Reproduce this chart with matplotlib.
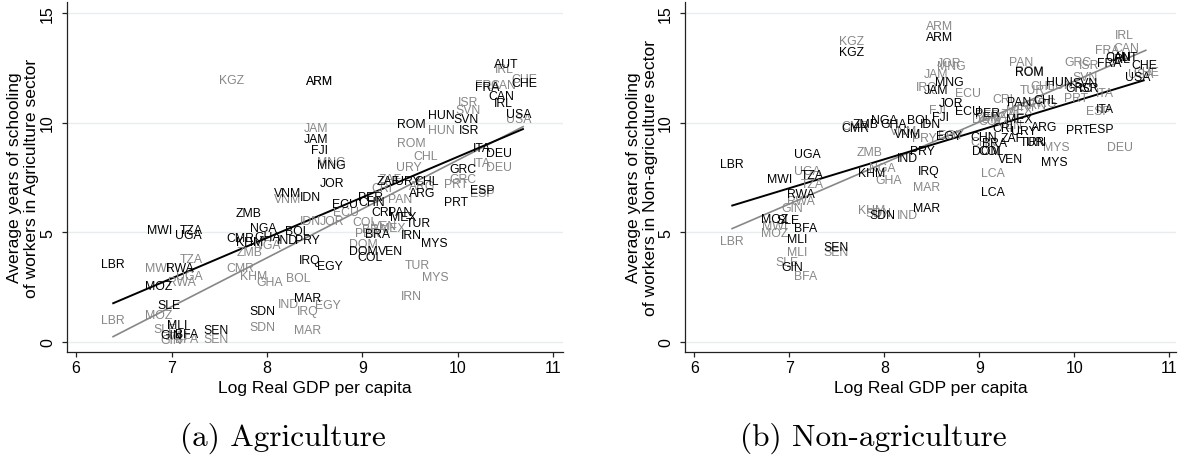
import matplotlib
matplotlib.use('Agg')
import matplotlib.pyplot as plt
import numpy as np

plt.rcParams['font.family'] = ['Liberation Sans', 'DejaVu Sans']

# ---------------- data ----------------
# Panel (a) Agriculture – black series
ag_black_codes = ['LBR','MWI','TZA','UGA','RWA','MOZ','SLE','MLI','GIN','BFA','SEN','ZMB','NGA','CMR',
                  'GHA','KHM','IND','PRY','BOL','SDN','IRQ','EGY','MAR','VNM','IDN','JAM','FJI','MNG',
                  'JOR','ARM','ECU','PER','CHN','CRI','PAN','MEX','TUR','BRA','IRN','MYS','DOM','VEN',
                  'COL','ZAF','URY','CHL','ARG','ROM','HUN','SVN','ISR','GRC','PRT','ITA','DEU','ESP',
                  'AUT','CHE','FRA','CAN','IRL','USA']
ag_black_gdp = [6.38,6.88,7.21,7.18,7.09,6.87,6.97,7.06,7.00,7.16,7.47,7.81,7.96,7.72,
                8.01,7.82,8.21,8.42,8.32,7.95,8.45,8.66,8.42,8.22,8.45,8.51,8.55,8.67,
                8.68,8.55,8.82,9.08,9.10,9.20,9.39,9.43,9.58,9.16,9.51,9.75,9.01,9.29,
                9.08,9.27,9.47,9.67,9.62,9.51,9.83,10.08,10.12,10.05,9.98,10.25,10.43,10.25,
                10.51,10.69,10.31,10.45,10.48,10.64]
ag_black_school = [3.55,5.09,5.09,4.86,3.35,2.53,1.68,0.77,0.32,0.36,0.51,5.86,5.17,4.71,
                   4.76,4.55,4.64,4.64,5.06,1.38,3.74,3.47,1.99,6.80,6.58,9.27,8.74,8.05,
                   7.23,11.91,6.30,6.58,6.35,5.90,5.90,5.67,5.41,4.91,4.86,4.50,4.15,4.15,
                   3.85,7.33,7.33,7.33,6.77,9.95,10.36,10.14,9.65,7.86,6.35,8.82,8.59,6.92,
                   12.68,11.80,11.60,11.23,10.90,10.41]

# Panel (a) Agriculture – grey series
ag_gray_codes = ['LBR','MOZ','MWI','TZA','UGA','RWA','SLE','MLI','GIN','BFA','SEN','KGZ','ZMB','NGA',
                 'KHM','CMR','GHA','BOL','SDN','IND','IRQ','EGY','MAR','VNM','IDN','JOR','JAM','MNG',
                 'ARM','ECU','COL','PER','DOM','BRA','MEX','VEN','ZAF','CRI','PAN','ARG','URY','CHL',
                 'TUR','MYS','IRN','ROM','HUN','ISR','SVN','GRC','PRT','ITA','DEU','ESP','IRL','CHE',
                 'FRA','CAN','USA']
ag_gray_gdp = [6.38,6.87,6.85,7.21,7.19,7.11,6.93,7.06,7.00,7.16,7.47,7.63,7.82,8.00,
               7.86,7.72,8.03,8.33,7.95,8.22,8.43,8.64,8.42,8.22,8.45,8.68,8.51,8.67,
               8.55,8.83,9.03,9.05,9.01,9.13,9.31,9.23,9.29,9.20,9.39,9.62,9.49,9.66,
               9.57,9.76,9.51,9.51,9.83,10.11,10.11,10.05,9.98,10.25,10.43,10.25,10.49,10.69,
               10.31,10.47,10.64]
ag_gray_school = [1.01,1.23,3.35,3.77,2.99,2.74,0.59,0.25,0.06,0.10,0.14,11.95,4.10,4.41,
                  2.99,3.35,2.74,2.90,0.67,1.70,1.38,1.65,0.51,6.50,5.51,5.51,9.76,8.20,
                  11.91,5.90,5.44,4.95,4.45,5.14,5.18,5.27,7.40,7.03,6.53,7.10,7.99,8.47,
                  3.50,2.94,2.08,9.05,9.68,10.92,10.56,7.41,7.21,8.17,7.99,6.77,12.44,11.99,
                  11.73,11.73,10.14]

# Panel (b) Non-agriculture – black series
na_black_codes = ['LBR','UGA','MWI','TZA','RWA','MOZ','SLE','BFA','MLI','SEN','GIN','KGZ','ARM','CMR',
                  'ZMB','NGA','GHA','BOL','IDN','VNM','KHM','SDN','IND','PRY','IRQ','MAR','EGY','JAM',
                  'MNG','JOR','FJI','ECU','PER','CHN','BRA','ZAF','DOM','COL','VEN','LCA','CRI','URY',
                  'ARG','MEX','PAN','CHL','TUR','IRN','MYS','ROM','HUN','SVN','GRC','ISR','PRT','ESP',
                  'ITA','FRA','CAN','IRL','AUT','CHE','USA']
na_black_gdp = [6.39,7.19,6.90,7.24,7.12,6.85,6.99,7.17,7.08,7.49,7.03,7.66,8.58,7.70,
                7.80,8.00,8.10,8.37,8.49,8.24,7.87,7.98,8.24,8.40,8.47,8.44,8.68,8.54,
                8.68,8.70,8.59,8.88,9.09,9.05,9.16,9.35,9.07,9.12,9.33,9.14,9.25,9.47,
                9.68,9.42,9.42,9.70,9.56,9.60,9.79,9.53,9.84,10.11,10.05,10.16,10.04,10.28,
                10.32,10.37,10.46,10.49,10.55,10.74,10.67]
na_black_school = [8.09,8.55,7.41,7.59,6.73,5.59,5.56,5.17,4.68,4.30,3.42,13.20,13.88,9.77,
                   9.91,10.10,9.95,10.10,9.95,9.49,7.71,5.77,8.36,8.70,7.79,6.08,9.38,11.50,
                   11.83,10.90,10.27,10.51,10.44,9.35,9.08,9.30,8.68,8.68,8.35,6.83,9.76,9.60,
                   9.80,10.14,10.92,11.05,9.09,9.09,8.20,12.29,11.83,11.80,11.58,11.58,9.64,9.71,
                   10.62,12.71,12.99,12.90,12.99,12.64,12.08]

# Panel (b) Non-agriculture – grey series
na_gray_codes = ['LBR','UGA','TZA','RWA','GIN','MWI','MOZ','MLI','SEN','SLE','BFA','KGZ','ARM','CMR',
                 'ZMB','NGA','GHA','KHM','SDN','IND','MAR','VNM','PRY','IRQ','JAM','JOR','MNG','FJI',
                 'ECU','EGY','CHN','DOM','PER','COL','BRA','LCA','CRI','VEN','ZAF','MEX','URY','IRN',
                 'ARG','PAN','ROM','TUR','CHL','HUN','MYS','GRC','ISR','SVN','PRT','ITA','ESP','DEU',
                 'IRL','CAN','FRA','CHE','USA']
na_gray_gdp = [6.39,7.19,7.24,7.12,7.03,6.85,6.85,7.08,7.49,6.98,7.17,7.66,8.58,7.70,
               7.84,7.98,8.05,7.87,7.94,8.24,8.44,8.20,8.42,8.45,8.54,8.68,8.70,8.56,
               8.88,8.70,9.05,9.07,9.09,9.12,9.16,9.14,9.25,9.33,9.35,9.42,9.47,9.60,
               9.68,9.44,9.53,9.56,9.67,9.84,9.81,10.04,10.16,10.11,10.02,10.32,10.25,10.48,
               10.53,10.55,10.35,10.76,10.70]
na_gray_school = [4.60,7.79,7.18,6.42,6.09,5.26,4.94,4.08,4.08,3.65,3.01,13.70,14.42,9.86,
                  8.67,7.94,7.38,6.00,5.86,5.79,7.08,9.60,9.30,11.64,12.23,12.73,12.59,10.59,
                  11.35,9.41,9.10,10.15,10.35,10.05,10.25,7.68,11.08,9.90,10.40,10.55,10.70,10.80,
                  10.90,12.74,12.36,11.47,11.65,11.73,8.90,12.74,12.64,12.08,11.12,11.35,10.51,8.90,
                  14.00,13.40,13.29,12.30,12.23]

# Linear fits: (intercept, slope)
ag_black_fit = (-10.08, 1.852)
ag_gray_fit = (-14.03, 2.232)
na_black_fit = (-2.23, 1.319)
na_gray_fit = (-6.80, 1.869)

x_ticks = [6, 7, 8, 9, 10, 11]
y_ticks = [0, 5, 10, 15]
x_title = 'Log Real GDP per capita'
y_title_a = 'Average years of schooling\nof workers in Agriculture sector'
y_title_b = 'Average years of schooling\nof workers in Non-agriculture sector'
caption_a = '(a) Agriculture'
caption_b = '(b) Non-agriculture'

# ---------------- drawing ----------------
W, H = 1178, 464
fig = plt.figure(figsize=(W / 100, H / 100), dpi=100)

def axes_px(l, r, t, b):
    return fig.add_axes([l / W, 1 - b / H, (r - l) / W, (b - t) / H])

BLACK = '#000000'
GREY = '#878787'

def draw_panel(ax, series, xlim):
    ax.set_xlim(*xlim)
    ax.set_ylim(-0.45, 15.5)
    ax.set_xticks(x_ticks)
    ax.set_yticks(y_ticks)
    ax.yaxis.grid(True, color='#E6EEF0', lw=1.0)
    ax.set_axisbelow(True)
    for s in ['top', 'right']:
        ax.spines[s].set_visible(False)
    for s in ['left', 'bottom']:
        ax.spines[s].set_linewidth(0.9)
        ax.spines[s].set_color('#222222')
    ax.tick_params(axis='both', length=3.8, width=0.9, color='#222222', labelsize=11.5)
    ax.tick_params(axis='x', pad=2.5)
    ax.tick_params(axis='y', pad=4.5, labelrotation=90)
    plt.setp(ax.get_yticklabels(), va='center', ha='right')
    for codes, gdp, school, fit, col, lw in series:
        xs = np.array([min(gdp), max(gdp)])
        ax.plot(xs, fit[0] + fit[1] * xs, color=col, lw=lw, zorder=2,
                solid_capstyle='butt')
    for codes, gdp, school, fit, col, lw in series:
        for c, x, y in zip(codes, gdp, school):
            ax.text(x, y, c, ha='center', va='center', fontsize=8.8, color=col, zorder=3)

ax1 = axes_px(66.5, 563, 3, 352.5)
draw_panel(ax1, [
    (ag_gray_codes, ag_gray_gdp, ag_gray_school, ag_gray_fit, GREY, 1.2),
    (ag_black_codes, ag_black_gdp, ag_black_school, ag_black_fit, BLACK, 1.4),
], (5.9, 11.1))

ax2 = axes_px(684.5, 1176, 3, 352.5)
draw_panel(ax2, [
    (na_gray_codes, na_gray_gdp, na_gray_school, na_gray_fit, GREY, 1.2),
    (na_black_codes, na_black_gdp, na_black_school, na_black_fit, BLACK, 1.4),
], (5.897, 11.07))

fig.text(23 / W, 1 - 178 / H, y_title_a, rotation=90, ha='center', va='center',
         fontsize=12.6, linespacing=1.1, multialignment='center')
fig.text(642 / W, 1 - 178 / H, y_title_b, rotation=90, ha='center', va='center',
         fontsize=12.6, linespacing=1.1, multialignment='center')
fig.text(315 / W, 1 - 389 / H, x_title, ha='center', va='center', fontsize=12.6)
fig.text(931 / W, 1 - 389 / H, x_title, ha='center', va='center', fontsize=12.6)
fig.text(283 / W, 1 - 438 / H, caption_a, ha='center', va='center', fontsize=22.5,
         family='cmr10')
fig.text(873 / W, 1 - 438 / H, caption_b, ha='center', va='center', fontsize=22.5,
         family='cmr10')

fig.savefig('out.png', dpi=100)
